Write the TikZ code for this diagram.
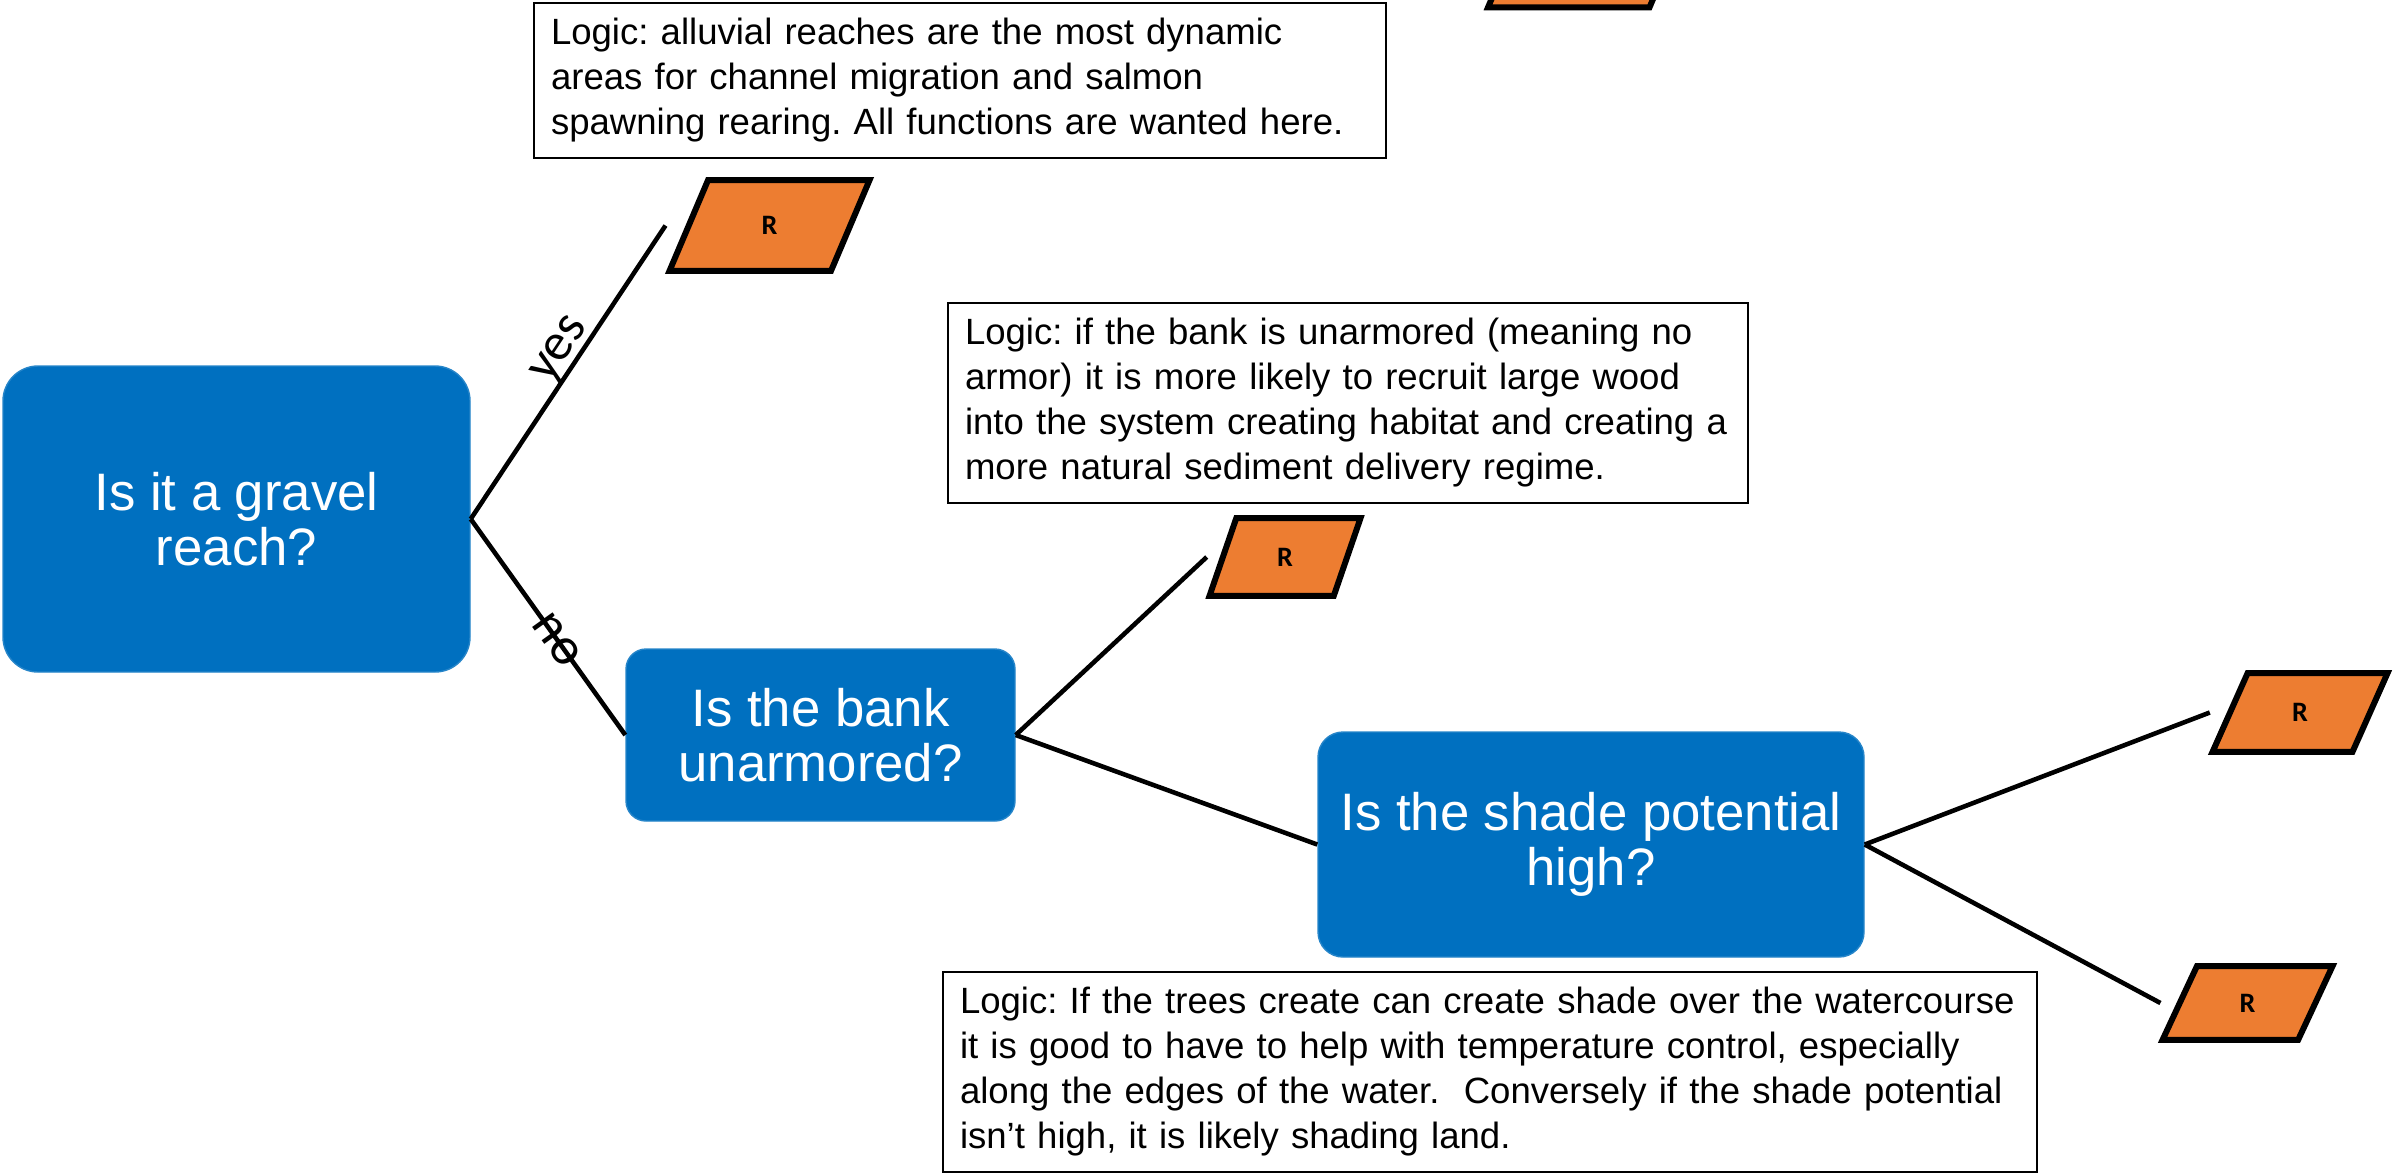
\documentclass[tikz,border=0pt]{standalone}
\usepackage{fontspec}
\setmainfont{Liberation Sans}
\newfontfamily\calibri{Carlito}
\frenchspacing
\usepackage{tikz}
\usetikzlibrary{shapes.geometric}
\definecolor{qblue}{HTML}{0070C0}
\definecolor{rorange}{HTML}{ED7D31}

\begin{document}
\begin{tikzpicture}[
		question/.style={fill=qblue, draw=qblue!85!white, text=white, align=center, inner sep=0pt, font=\fontsize{15pt}{15.6pt}\selectfont},
		logic/.style={draw, line width=.6pt, align=left, inner xsep=1.7mm, inner ysep=0pt, font=\fontsize{10.4pt}{12.8pt}\selectfont},
		result/.style={trapezium, trapezium stretches body, draw, line width=1.7pt, fill=rorange, inner xsep=0pt, text height=5.2pt, text depth=0pt, font=\calibri\bfseries\fontsize{8pt}{9pt}\selectfont},
		branch/.style={line width=1.3pt},
		answer/.style={font=\calibri\fontsize{15pt}{16pt}\selectfont, sloped}
	]
		\useasboundingbox (0, 0) rectangle (23.94, -11.74);
		\clip (0, 0) rectangle (23.94, -11.74);
		% questions
		\node[question, rounded corners=3.5mm, minimum width=4.67cm, minimum height=3.06cm] (gravel) at (2.365, -5.19) {Is it a gravel\\reach?};
		\node[question, rounded corners=2mm, minimum width=3.89cm, minimum height=1.72cm] (bank) at (8.205, -7.35) {Is the bank\\unarmored?};
		\node[question, rounded corners=2.5mm, minimum width=5.46cm, minimum height=2.25cm] (shade) at (15.91, -8.445) {Is the shade potential\\high?};
		% results
		\node[result, trapezium left angle=67, trapezium right angle=113, minimum width=2cm, inner ysep=10.3pt] (r0) at (15.88, .38) {R};
		\node[result, trapezium left angle=67, trapezium right angle=113, minimum width=2cm, inner ysep=10.3pt] (r1) at (7.695, -2.255) {R};
		\node[result, trapezium left angle=71, trapezium right angle=109, minimum width=1.51cm, inner ysep=8.45pt] (r2) at (12.85, -5.57) {R};
		\node[result, trapezium left angle=66, trapezium right angle=114, minimum width=1.75cm, inner ysep=8.6pt] (r3) at (23.0, -7.125) {R};
		\node[result, trapezium left angle=65, trapezium right angle=115, minimum width=1.7cm, inner ysep=7.9pt] (r4) at (22.475, -10.03) {R};
		% logic notes
		\node[logic, text width=8.18cm, minimum height=1.55cm] (whyGravel) at (9.6, -.805) {Logic: alluvial reaches are the most dynamic\\areas for channel migration and salmon\\spawning rearing. All functions are wanted here.};
		\node[logic, text width=7.66cm, minimum height=2cm] (whyBank) at (13.48, -4.03) {Logic: if the bank is unarmored (meaning no\\armor) it is more likely to recruit large wood\\into the system creating habitat and creating a\\more natural sediment delivery regime.};
		\node[logic, text width=10.6cm, minimum height=2cm] (whyShade) at (14.9, -10.72) {Logic: If the trees create can create shade over the watercourse\\it is good to have to help with temperature control, especially\\along the edges of the water.\ \ Conversely if the shade potential\\isn’t high, it is likely shading land.};
		% branches
		\draw[branch](gravel.east)--([xshift=-2mm]r1.west)node[answer, above=-1pt, pos=.54, inner sep=.5pt]{yes};
		\draw[branch](gravel.east)--(bank.west)node[answer, pos=.56]{no};
		\draw[branch](bank.east)--([xshift=-1.3mm]r2.west);
		\draw[branch](bank.east)--(shade.west);
		\draw[branch](shade.east)--([xshift=-1.7mm]r3.west);
		\draw[branch](shade.east)--([xshift=-1.6mm]r4.west);
	\end{tikzpicture}
\end{document}
